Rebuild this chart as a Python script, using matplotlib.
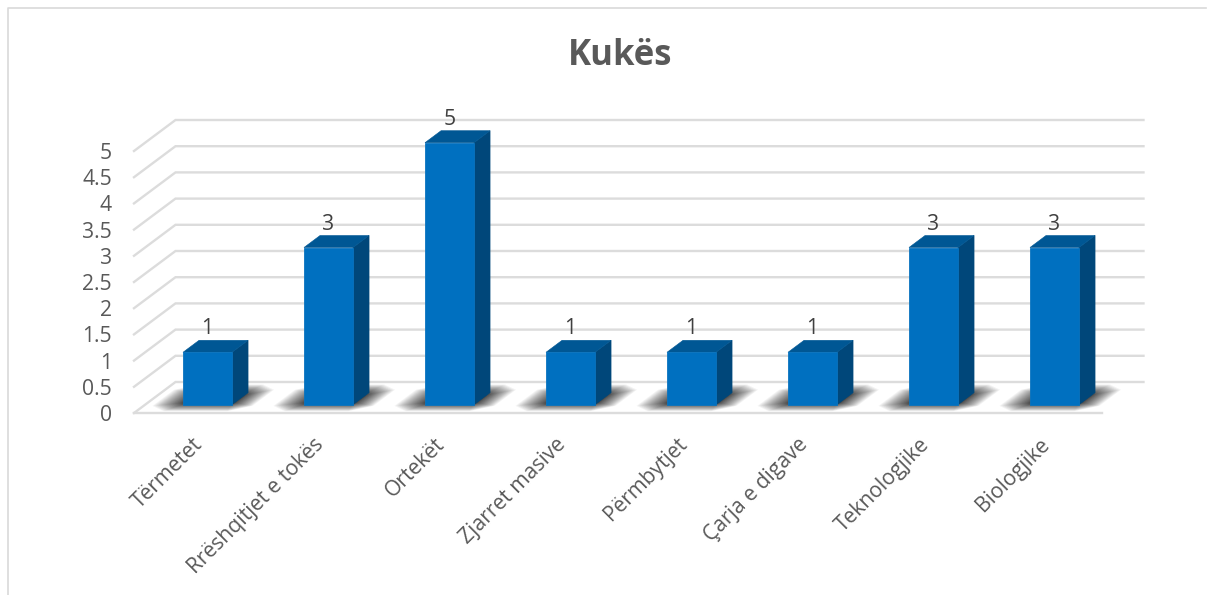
import matplotlib
matplotlib.use("Agg")
import matplotlib.pyplot as plt
from matplotlib.patches import Polygon

title = "Kukës"
categories = ["Tërmetet", "Rrëshqitjet e tokës", "Ortekët", "Zjarret masive",
              "Përmbytjet", "Çarja e digave", "Teknologjike", "Biologjike"]
values = [1, 3, 5, 1, 1, 1, 3, 3]
tick_values = [0, 0.5, 1, 1.5, 2, 2.5, 3, 3.5, 4, 4.5, 5]
tick_labels = ["0", "0.5", "1", "1.5", "2", "2.5", "3", "3.5", "4", "4.5", "5"]

W, H = 1221, 595
L, R, T, B = 134, 1102, 151, 413
DEPTH_X, DEPTH_Y = 41.5, 31
PXX = (R - L) / len(categories)
PXY = (B - T) / 5.0

plt.rcParams["font.family"] = ["Open Sans", "DejaVu Sans"]
fig = plt.figure(figsize=(W / 100, H / 100), dpi=100, facecolor="white")
ax = fig.add_axes([L / W, 1 - B / H, (R - L) / W, (B - T) / H])
ax.set_xlim(-0.5, len(categories) - 0.5)
ax.set_ylim(0, 5)
for s in ax.spines.values():
    s.set_visible(False)


def pt(cat, val, depth=0.0):
    return (cat + depth * DEPTH_X / PXX, val + depth * DEPTH_Y / PXY)


x0, x1 = -0.5, len(categories) - 0.5
GRID = "#DCDCDC"
for v in tick_values:
    a, b, c = pt(x0, v), pt(x0, v, 1), pt(x1, v, 1)
    ax.plot([a[0], b[0], c[0]], [a[1], b[1], c[1]], color=GRID, lw=1.7,
            clip_on=False, zorder=1, solid_joinstyle="miter")
a, b = pt(x0, 0), pt(x1, 0)
ax.plot([a[0], b[0]], [a[1], b[1]], color=GRID, lw=1.7, clip_on=False, zorder=1)

BAR_W = 49 / PXX
OFF = 13 / PXX  # lateral offset of the bar inside its category
D0, D1 = 8.3 / DEPTH_Y, 20.3 / DEPTH_Y

for i, v in enumerate(values):
    xl = i + OFF - BAR_W / 2 - D0 * DEPTH_X / PXX
    xr = xl + BAR_W
    # soft floor shadow: stacked translucent outlines fading outwards
    layers = 34
    for k in range(layers):
        g = (1 - k / (layers - 1)) ** 1.6
        sl = xl - (2 + 27 * g) / PXX
        sr = xr + (0 + 22 * g) / PXX
        d_lo = 0.30 - 0.24 * g
        d_hi = 0.62 + 0.30 * g
        cx = (2 + 16 * g) / PXX
        cd = 0.03 + 0.14 * g
        poly = [pt(sl + cx, 0, d_lo), pt(sr - cx, 0, d_lo), pt(sr, 0, d_lo + cd),
                pt(sr, 0, d_hi - cd), pt(sr - cx, 0, d_hi), pt(sl + cx, 0, d_hi),
                pt(sl, 0, d_hi - cd), pt(sl, 0, d_lo + cd)]
        ax.add_patch(Polygon(poly, closed=True, fc="#202020", ec="none",
                             alpha=0.048, clip_on=False, zorder=2))
    front = [pt(xl, 0, D0), pt(xr, 0, D0), pt(xr, v, D0), pt(xl, v, D0)]
    side = [pt(xr, 0, D0), pt(xr, 0, D1), pt(xr, v, D1), pt(xr, v, D0)]
    top = [pt(xl, v, D0), pt(xr, v, D0), pt(xr, v, D1), pt(xl, v, D1)]
    ax.add_patch(Polygon(side, closed=True, fc="#00477A", ec="#00477A", lw=0.4, clip_on=False, zorder=3))
    ax.add_patch(Polygon(top, closed=True, fc="#005794", ec="#005794", lw=0.4, clip_on=False, zorder=3))
    ax.add_patch(Polygon(front, closed=True, fc="#0070C0", ec="#0A74BF", lw=0.6, clip_on=False, zorder=4))
    lx, ly = pt(i + OFF, v, D1)
    ax.annotate(str(v), (i, ly), xytext=(13, 1), textcoords="offset pixels",
                ha="center", va="bottom", fontsize=15.2, color="#404040", zorder=6,
                annotation_clip=False)

ax.set_yticks(tick_values)
ax.set_yticklabels(tick_labels, fontsize=15.2, color="#595959")
ax.tick_params(axis="y", length=0, pad=16)
ax.set_xticks([i - 2 / PXX for i in range(len(categories))])
ax.set_xticklabels(categories, fontsize=15.2, color="#595959", rotation=45,
                   ha="right", va="top", rotation_mode="anchor")
ax.tick_params(axis="x", length=0, pad=15)

fig.text(620.5 / W, 1 - 56 / H, title, ha="center", va="center", fontsize=25,
         fontweight="bold", color="#595959")

# chart frame
fig.add_artist(plt.Line2D([8 / W, 8 / W, 1206 / W], [0, 1 - 8 / H, 1 - 8 / H],
                          color="#D9D9D9", lw=1.2, transform=fig.transFigure))
fig.savefig("out.png", dpi=100)
